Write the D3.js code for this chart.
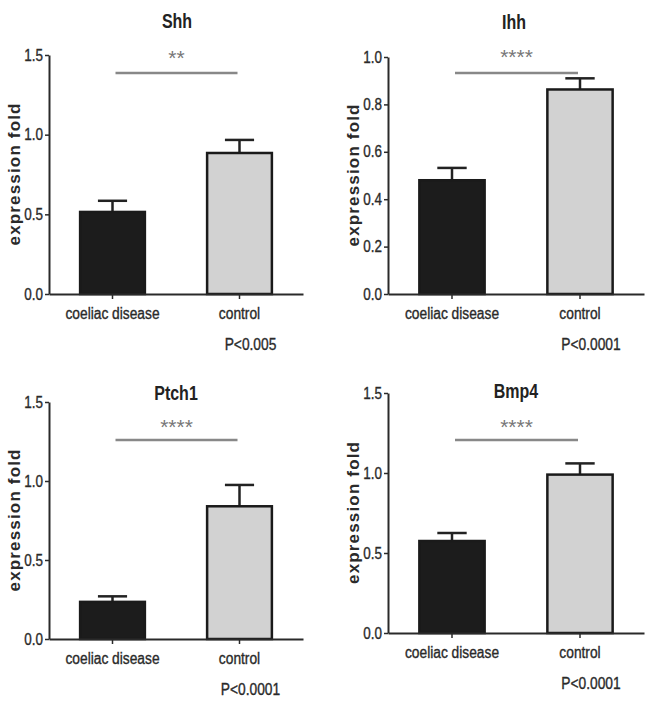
<!DOCTYPE html>
<html>
<head>
<meta charset="utf-8">
<script src="https://cdn.jsdelivr.net/npm/d3@7"></script>
<style>
  html, body { margin: 0; padding: 0; background: #fff; }
  svg { display: block; }
  text { font-family: "Liberation Sans", Arial, sans-serif; }
  .heavy { stroke: #2a2a2a; stroke-width: 0.35px; }
</style>
</head>
<body>
<svg id="chart" width="653" height="702"></svg>
<script>
// ---- data ----
const categories = ["coeliac disease", "control"];
const genes = ["Shh", "Ihh", "Ptch1", "Bmp4"];
const meanCoeliac = [0.515, 0.48, 0.235, 0.575];
const meanControl = [0.885, 0.863, 0.84, 0.99];
const semCoeliac = [0.07, 0.052, 0.035, 0.05];
const semControl = [0.082, 0.047, 0.135, 0.07];
const yMax = [1.5, 1.0, 1.5, 1.5];
const yTickValues = [
  [0, 0.5, 1.0, 1.5],
  [0, 0.2, 0.4, 0.6, 0.8, 1.0],
  [0, 0.5, 1.0, 1.5],
  [0, 0.5, 1.0, 1.5]
];
const stars = ["**", "****", "****", "****"];
const sigLevel = [1.387, 0.932, 1.26, 1.206];
const pLabels = ["P<0.005", "P<0.0001", "P<0.0001", "P<0.0001"];
const yLabel = "expression fold";

// ---- layout (pixel frames of each panel) ----
const frames = [
  { x0: 49, x1: 303, yTop: 55, yBot: 294, titleX: 177, titleY: 28, starDy: -8 },
  { x0: 388, x1: 644, yTop: 57, yBot: 294, titleX: 514, titleY: 29, starDy: -9 },
  { x0: 49, x1: 303, yTop: 402, yBot: 639, titleX: 176, titleY: 400, starDy: -6 },
  { x0: 388, x1: 644, yTop: 393, yBot: 633, titleX: 516, titleY: 398, starDy: -6 }
];

const svg = d3.select("#chart");
const axisColor = "#2a2a2a";

// emulate a narrow (condensed) typeface by compressing glyphs horizontally
function narrow(sel, k) {
  sel.each(function () {
    const w = this.getComputedTextLength();
    d3.select(this).attr("textLength", w * k).attr("lengthAdjust", "spacingAndGlyphs");
  });
}

genes.forEach((gene, i) => {
  const f = frames[i];
  const g = svg.append("g");
  const y = d3.scaleLinear().domain([0, yMax[i]]).range([f.yBot, f.yTop]);
  const x = d3.scaleBand().domain(categories).range([f.x0, f.x1])
    .paddingInner(0.49).paddingOuter(0.245);
  const cx = c => x(c) + x.bandwidth() / 2;

  const rows = [
    { cat: categories[0], mean: meanCoeliac[i], sem: semCoeliac[i], fill: "#1c1c1c" },
    { cat: categories[1], mean: meanControl[i], sem: semControl[i], fill: "#d2d2d2" }
  ];

  // error bars (upper only)
  const capW = x.bandwidth() * 0.45;
  rows.forEach(r => {
    g.append("line").attr("x1", cx(r.cat)).attr("x2", cx(r.cat))
      .attr("y1", y(r.mean)).attr("y2", y(r.mean + r.sem))
      .attr("stroke", "#222").attr("stroke-width", 2.5);
    g.append("line").attr("x1", cx(r.cat) - capW / 2).attr("x2", cx(r.cat) + capW / 2)
      .attr("y1", y(r.mean + r.sem)).attr("y2", y(r.mean + r.sem))
      .attr("stroke", "#222").attr("stroke-width", 2.5);
  });

  // bars
  g.selectAll("rect.bar").data(rows).join("rect")
    .attr("class", "bar")
    .attr("x", d => x(d.cat))
    .attr("width", x.bandwidth())
    .attr("y", d => y(d.mean))
    .attr("height", d => y(0) - y(d.mean))
    .attr("fill", d => d.fill)
    .attr("stroke", "#1a1a1a")
    .attr("stroke-width", 2.5);

  // y axis
  const ya = g.append("g").attr("transform", `translate(${f.x0},0)`)
    .call(d3.axisLeft(y).tickValues(yTickValues[i]).tickFormat(d3.format(".1f"))
      .tickSize(4).tickSizeOuter(0).tickPadding(2));
  ya.select(".domain").attr("stroke", axisColor).attr("stroke-width", 2);
  ya.selectAll(".tick line").attr("stroke", axisColor).attr("stroke-width", 1.5);
  ya.selectAll(".tick text").attr("font-size", 16).attr("fill", "#2a2a2a")
    .attr("class", "heavy").call(narrow, 0.84);

  // x axis
  const xa = g.append("g").attr("transform", `translate(0,${f.yBot})`)
    .call(d3.axisBottom(x).tickSize(5).tickSizeOuter(0).tickPadding(8.5));
  xa.select(".domain").attr("stroke", axisColor).attr("stroke-width", 2);
  xa.selectAll(".tick line").attr("stroke", axisColor).attr("stroke-width", 1.5);
  xa.selectAll(".tick text").attr("font-size", 16).attr("fill", "#2a2a2a")
    .attr("class", "heavy").call(narrow, 0.86);

  // p-value label
  g.append("text").attr("x", cx(categories[1]) + 11).attr("y", f.yBot + 56)
    .attr("text-anchor", "middle").attr("font-size", 16).attr("fill", "#2a2a2a")
    .attr("class", "heavy").text(pLabels[i]).call(narrow, 0.86);

  // y label
  const ly = (f.yTop + f.yBot) / 2;
  g.append("text")
    .attr("transform", `translate(${f.x0 - 29},${ly}) rotate(-90)`)
    .attr("text-anchor", "middle")
    .attr("font-weight", "bold").attr("font-size", 17).attr("fill", "#2a2a2a")
    .attr("textLength", 142).attr("lengthAdjust", "spacing")
    .text(yLabel);

  // title
  g.append("text").attr("x", f.titleX).attr("y", f.titleY)
    .attr("text-anchor", "middle").attr("font-weight", "bold")
    .attr("font-size", 20).attr("fill", "#222").text(gene).call(narrow, 0.8);

  // significance line & stars
  const sx0 = cx(categories[0]) + 3, sx1 = cx(categories[1]) - 2;
  g.append("line").attr("x1", sx0).attr("x2", sx1)
    .attr("y1", y(sigLevel[i])).attr("y2", y(sigLevel[i]))
    .attr("stroke", "#888").attr("stroke-width", 2.5);
  g.append("text").attr("x", (sx0 + sx1) / 2).attr("y", y(sigLevel[i]) + f.starDy)
    .attr("text-anchor", "middle").attr("font-size", 21).attr("fill", "#777")
    .text(stars[i]);
});
</script>
</body>
</html>
